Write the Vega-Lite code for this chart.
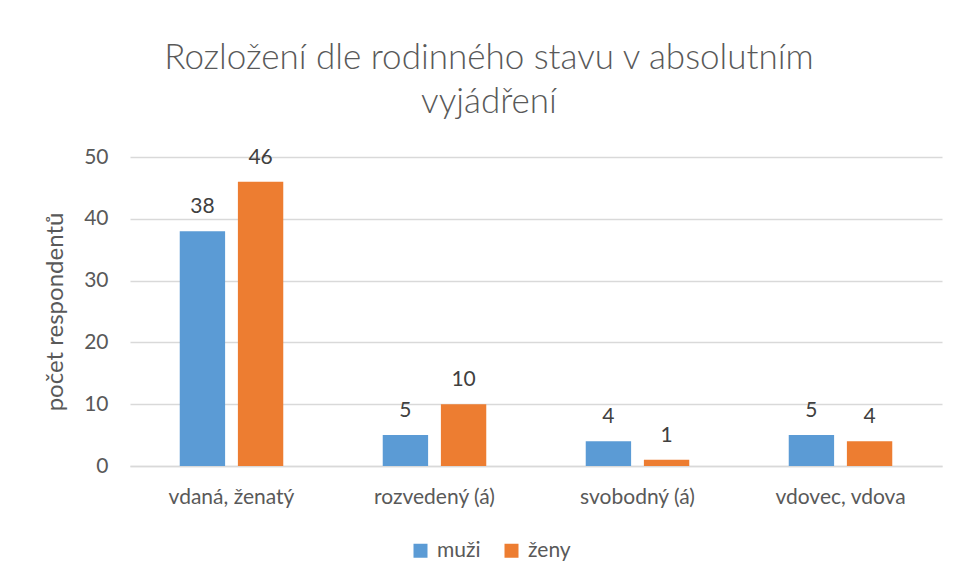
{
  "$schema": "https://vega.github.io/schema/vega-lite/v6.json",
  "width": 812,
  "height": 309,
  "autosize": {"type": "none"},
  "padding": {"left": 130, "top": 157, "right": 15, "bottom": 115},
  "background": "white",
  "config": {"view": {"stroke": null}},
  "title": {
    "text": ["Rozložení dle rodinného stavu v absolutním", "vyjádření"],
    "anchor": "middle",
    "dx": -47,
    "offset": 26,
    "font": "Lato",
    "fontSize": 35,
    "fontWeight": 300,
    "color": "#595959",
    "lineHeight": 44
  },
  "data": {
    "values": [
      {"stav": "vdaná, ženatý", "pohlavi": "muži", "pocet": 38},
      {"stav": "vdaná, ženatý", "pohlavi": "ženy", "pocet": 46},
      {"stav": "rozvedený (á)", "pohlavi": "muži", "pocet": 5},
      {"stav": "rozvedený (á)", "pohlavi": "ženy", "pocet": 10},
      {"stav": "svobodný (á)", "pohlavi": "muži", "pocet": 4},
      {"stav": "svobodný (á)", "pohlavi": "ženy", "pocet": 1},
      {"stav": "vdovec, vdova", "pohlavi": "muži", "pocet": 5},
      {"stav": "vdovec, vdova", "pohlavi": "ženy", "pocet": 4}
    ]
  },
  "encoding": {
    "x": {
      "field": "stav",
      "type": "nominal",
      "sort": null,
      "scale": {"paddingInner": 0.49, "paddingOuter": 0.245},
      "axis": {
        "title": null,
        "labelAngle": 0,
        "labelFont": "Lato",
        "labelFontSize": 21,
        "labelColor": "#595959",
        "labelPadding": 20,
        "ticks": false,
        "domainColor": "#d9d9d9",
        "domainWidth": 1.5,
        "grid": false
      }
    },
    "xOffset": {
      "field": "pohlavi",
      "type": "nominal",
      "scale": {"paddingInner": 0.22, "paddingOuter": 0}
    },
    "y": {
      "field": "pocet",
      "type": "quantitative",
      "scale": {"domain": [0, 50]},
      "axis": {
        "title": "počet respondentů",
        "titleFont": "Lato",
        "titleFontSize": 24,
        "titleFontWeight": "normal",
        "titleColor": "#595959",
        "titlePadding": 16,
        "values": [0, 10, 20, 30, 40, 50],
        "labelFont": "Lato",
        "labelFontSize": 21,
        "labelColor": "#595959",
        "labelPadding": 22,
        "ticks": false,
        "domain": false,
        "gridColor": "#d9d9d9",
        "gridWidth": 1.5
      }
    }
  },
  "layer": [
    {
      "mark": {"type": "bar"},
      "encoding": {
        "color": {
          "field": "pohlavi",
          "type": "nominal",
          "scale": {"domain": ["muži", "ženy"], "range": ["#5B9BD5", "#ED7D31"]},
          "legend": {
            "title": null,
            "orient": "none",
            "direction": "horizontal",
            "legendX": 280,
            "legendY": 383,
            "symbolType": "square",
            "symbolSize": 196,
            "symbolStrokeWidth": 0,
            "labelFont": "Lato",
            "labelFontSize": 21,
            "labelColor": "#595959",
            "labelOffset": 6,
            "columnPadding": 20
          }
        }
      }
    },
    {
      "mark": {"type": "text", "baseline": "bottom", "dy": -14, "font": "Lato", "fontSize": 21, "color": "#404040"},
      "encoding": {
        "text": {"field": "pocet", "type": "quantitative"}
      }
    }
  ]
}
